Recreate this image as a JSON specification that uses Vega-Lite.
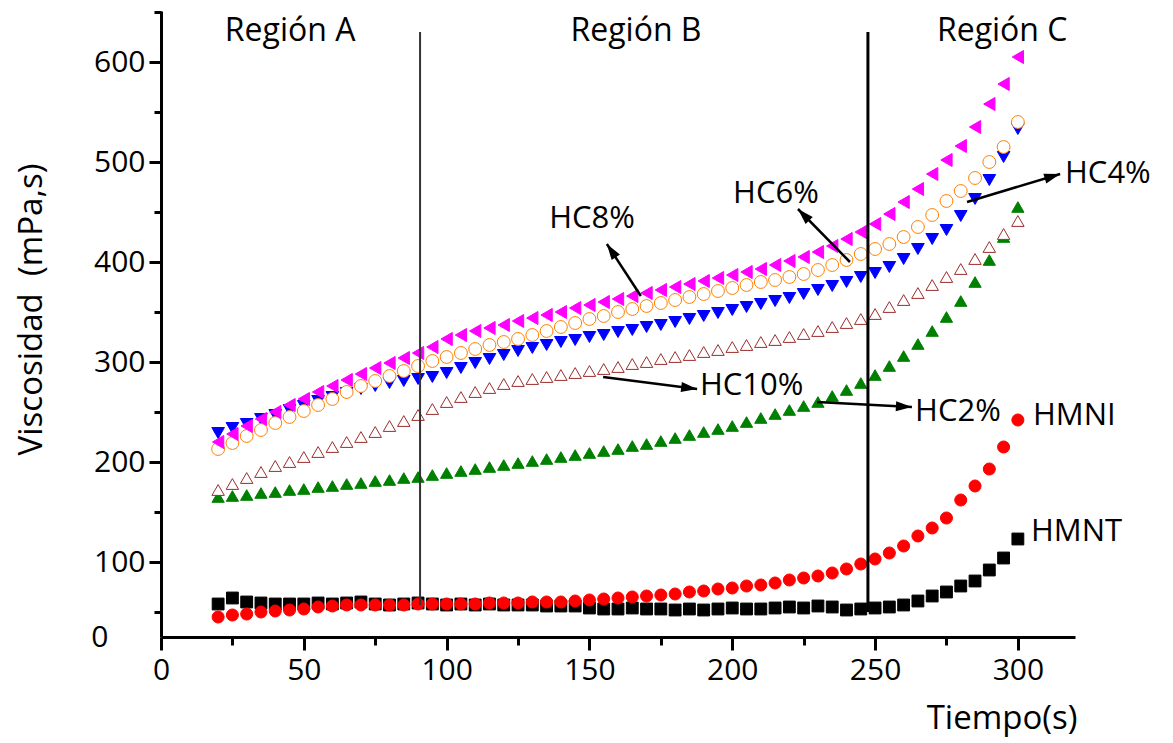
{
  "$schema": "https://vega.github.io/schema/vega-lite/v6.json",
  "width": 914,
  "height": 626,
  "autosize": "none",
  "padding": {"left": 161, "top": 11, "right": 98, "bottom": 106},
  "background": "white",
  "config": {"view": {"stroke": null}, "font": "Open Sans"},
  "datasets": {
    "d": [
      {"t":20,"HC8%":220,"HC6%":213,"HC4%":229,"HC10%":172,"HC2%":165,"HMNI":45,"HMNT":58},
      {"t":25,"HC8%":228,"HC6%":219,"HC4%":234,"HC10%":178,"HC2%":166,"HMNI":47,"HMNT":64},
      {"t":30,"HC8%":236,"HC6%":226,"HC4%":238,"HC10%":184,"HC2%":167,"HMNI":48,"HMNT":60},
      {"t":35,"HC8%":243,"HC6%":232,"HC4%":243,"HC10%":190,"HC2%":169,"HMNI":50,"HMNT":59},
      {"t":40,"HC8%":250,"HC6%":239,"HC4%":247,"HC10%":196,"HC2%":170,"HMNI":51,"HMNT":58},
      {"t":45,"HC8%":257,"HC6%":245,"HC4%":252,"HC10%":200,"HC2%":172,"HMNI":52,"HMNT":58},
      {"t":50,"HC8%":263,"HC6%":251,"HC4%":256,"HC10%":205,"HC2%":173,"HMNI":53,"HMNT":58},
      {"t":55,"HC8%":270,"HC6%":257,"HC4%":261,"HC10%":210,"HC2%":175,"HMNI":55,"HMNT":59},
      {"t":60,"HC8%":276,"HC6%":263,"HC4%":265,"HC10%":215,"HC2%":176,"HMNI":56,"HMNT":58},
      {"t":65,"HC8%":282,"HC6%":270,"HC4%":269,"HC10%":220,"HC2%":178,"HMNI":57,"HMNT":59},
      {"t":70,"HC8%":288,"HC6%":276,"HC4%":273,"HC10%":225,"HC2%":179,"HMNI":57,"HMNT":60},
      {"t":75,"HC8%":294,"HC6%":281,"HC4%":276,"HC10%":230,"HC2%":181,"HMNI":57,"HMNT":58},
      {"t":80,"HC8%":299,"HC6%":286,"HC4%":279,"HC10%":236,"HC2%":182,"HMNI":57,"HMNT":57},
      {"t":85,"HC8%":304,"HC6%":291,"HC4%":281,"HC10%":241,"HC2%":184,"HMNI":57,"HMNT":58},
      {"t":90,"HC8%":309,"HC6%":296,"HC4%":283,"HC10%":247,"HC2%":185,"HMNI":58,"HMNT":59},
      {"t":95,"HC8%":315,"HC6%":301,"HC4%":285,"HC10%":253,"HC2%":187,"HMNI":58,"HMNT":58},
      {"t":100,"HC8%":323,"HC6%":305,"HC4%":289,"HC10%":260,"HC2%":189,"HMNI":58,"HMNT":57},
      {"t":105,"HC8%":327,"HC6%":309,"HC4%":294,"HC10%":265,"HC2%":191,"HMNI":58,"HMNT":58},
      {"t":110,"HC8%":331,"HC6%":313,"HC4%":299,"HC10%":270,"HC2%":193,"HMNI":58,"HMNT":57},
      {"t":115,"HC8%":334,"HC6%":317,"HC4%":303,"HC10%":274,"HC2%":195,"HMNI":59,"HMNT":58},
      {"t":120,"HC8%":337,"HC6%":320,"HC4%":307,"HC10%":278,"HC2%":197,"HMNI":59,"HMNT":57},
      {"t":125,"HC8%":341,"HC6%":323,"HC4%":311,"HC10%":281,"HC2%":199,"HMNI":59,"HMNT":57},
      {"t":130,"HC8%":344,"HC6%":327,"HC4%":314,"HC10%":283,"HC2%":201,"HMNI":60,"HMNT":57},
      {"t":135,"HC8%":347,"HC6%":331,"HC4%":317,"HC10%":285,"HC2%":203,"HMNI":60,"HMNT":56},
      {"t":140,"HC8%":350,"HC6%":335,"HC4%":320,"HC10%":287,"HC2%":205,"HMNI":60,"HMNT":56},
      {"t":145,"HC8%":354,"HC6%":339,"HC4%":322,"HC10%":289,"HC2%":207,"HMNI":61,"HMNT":56},
      {"t":150,"HC8%":357,"HC6%":343,"HC4%":325,"HC10%":291,"HC2%":209,"HMNI":62,"HMNT":54},
      {"t":155,"HC8%":360,"HC6%":346,"HC4%":327,"HC10%":293,"HC2%":211,"HMNI":63,"HMNT":53},
      {"t":160,"HC8%":363,"HC6%":350,"HC4%":330,"HC10%":295,"HC2%":213,"HMNI":64,"HMNT":53},
      {"t":165,"HC8%":366,"HC6%":353,"HC4%":332,"HC10%":298,"HC2%":216,"HMNI":65,"HMNT":54},
      {"t":170,"HC8%":369,"HC6%":356,"HC4%":335,"HC10%":300,"HC2%":218,"HMNI":66,"HMNT":53},
      {"t":175,"HC8%":372,"HC6%":359,"HC4%":337,"HC10%":303,"HC2%":221,"HMNI":67,"HMNT":53},
      {"t":180,"HC8%":375,"HC6%":362,"HC4%":340,"HC10%":305,"HC2%":224,"HMNI":68,"HMNT":52},
      {"t":185,"HC8%":378,"HC6%":365,"HC4%":343,"HC10%":307,"HC2%":227,"HMNI":70,"HMNT":53},
      {"t":190,"HC8%":381,"HC6%":368,"HC4%":346,"HC10%":310,"HC2%":230,"HMNI":71,"HMNT":52},
      {"t":195,"HC8%":384,"HC6%":371,"HC4%":349,"HC10%":312,"HC2%":233,"HMNI":73,"HMNT":53},
      {"t":200,"HC8%":387,"HC6%":374,"HC4%":352,"HC10%":315,"HC2%":236,"HMNI":74,"HMNT":54},
      {"t":205,"HC8%":390,"HC6%":377,"HC4%":355,"HC10%":317,"HC2%":240,"HMNI":76,"HMNT":53},
      {"t":210,"HC8%":393,"HC6%":380,"HC4%":358,"HC10%":320,"HC2%":244,"HMNI":77,"HMNT":53},
      {"t":215,"HC8%":397,"HC6%":382,"HC4%":361,"HC10%":322,"HC2%":248,"HMNI":79,"HMNT":54},
      {"t":220,"HC8%":401,"HC6%":385,"HC4%":364,"HC10%":325,"HC2%":252,"HMNI":82,"HMNT":55},
      {"t":225,"HC8%":405,"HC6%":388,"HC4%":368,"HC10%":328,"HC2%":256,"HMNI":84,"HMNT":54},
      {"t":230,"HC8%":410,"HC6%":392,"HC4%":372,"HC10%":331,"HC2%":260,"HMNI":86,"HMNT":56},
      {"t":235,"HC8%":416,"HC6%":397,"HC4%":376,"HC10%":335,"HC2%":266,"HMNI":89,"HMNT":55},
      {"t":240,"HC8%":423,"HC6%":402,"HC4%":380,"HC10%":339,"HC2%":272,"HMNI":93,"HMNT":52},
      {"t":245,"HC8%":430,"HC6%":408,"HC4%":385,"HC10%":343,"HC2%":279,"HMNI":98,"HMNT":53},
      {"t":250,"HC8%":438,"HC6%":413,"HC4%":389,"HC10%":348,"HC2%":287,"HMNI":103,"HMNT":54},
      {"t":255,"HC8%":448,"HC6%":418,"HC4%":395,"HC10%":355,"HC2%":296,"HMNI":109,"HMNT":55},
      {"t":260,"HC8%":460,"HC6%":425,"HC4%":403,"HC10%":362,"HC2%":306,"HMNI":116,"HMNT":57},
      {"t":265,"HC8%":473,"HC6%":435,"HC4%":413,"HC10%":369,"HC2%":318,"HMNI":126,"HMNT":61},
      {"t":270,"HC8%":488,"HC6%":447,"HC4%":423,"HC10%":377,"HC2%":331,"HMNI":134,"HMNT":66},
      {"t":275,"HC8%":502,"HC6%":461,"HC4%":432,"HC10%":385,"HC2%":345,"HMNI":144,"HMNT":70},
      {"t":280,"HC8%":516,"HC6%":471,"HC4%":446,"HC10%":393,"HC2%":361,"HMNI":162,"HMNT":76},
      {"t":285,"HC8%":535,"HC6%":484,"HC4%":463,"HC10%":403,"HC2%":380,"HMNI":176,"HMNT":81},
      {"t":290,"HC8%":558,"HC6%":500,"HC4%":482,"HC10%":415,"HC2%":402,"HMNI":193,"HMNT":92},
      {"t":295,"HC8%":578,"HC6%":515,"HC4%":505,"HC10%":428,"HC2%":425,"HMNI":215,"HMNT":104},
      {"t":300,"HC8%":605,"HC6%":540,"HC4%":533,"HC10%":441,"HC2%":455,"HMNI":242,"HMNT":123}
    ],
    "arrows": [
      {"t":168.0,"y":366,"t2":156.1,"y2":418,"lab":"HC8%"},
      {"t":241.2,"y":400,"t2":223.0,"y2":453,"lab":"HC6%"},
      {"t":282.2,"y":460,"t2":314.8,"y2":488,"lab":"HC4%"},
      {"t":154.8,"y":285,"t2":187.7,"y2":273,"lab":"HC10%"},
      {"t":229.7,"y":260,"t2":262.9,"y2":255,"lab":"HC2%"}
    ]
  },
  "encoding": {
    "x": {
      "field": "t",
      "type": "quantitative",
      "title": "Tiempo(s)",
      "scale": {"domain": [0, 320], "nice": false, "zero": false},
      "axis": {
        "values": [0, 25, 50, 75, 100, 125, 150, 175, 200, 225, 250, 275, 300],
        "labelExpr": "datum.value % 50 === 0 ? datum.label : ''",
        "tickSize": {"condition": {"test": "datum.value % 50 === 0", "value": 13}, "value": 8},
        "labelPadding": 5,
        "labelFont": "Open Sans",
        "labelFontSize": 30,
        "labelColor": "black",
        "labelFlush": false,
        "labelOverlap": false,
        "domainColor": "black",
        "domainWidth": 3,
        "tickColor": "black",
        "tickWidth": 3,
        "grid": false,
        "titleFont": "Open Sans",
        "titleFontSize": 33,
        "titleFontWeight": "normal",
        "titleColor": "black",
        "titleX": 916,
        "titleY": 81,
        "titleAlign": "right",
        "titleBaseline": "middle"
      }
    },
    "y": {
      "field": "y",
      "type": "quantitative",
      "title": "Viscosidad\u00a0 (mPa,s)",
      "scale": {"domain": [25, 651], "nice": false, "zero": false},
      "axis": {
        "values": [25, 50, 100, 150, 200, 250, 300, 350, 400, 450, 500, 550, 600, 650],
        "labelExpr": "datum.value === 25 ? '0' : (datum.value % 100 === 0 ? datum.label : '')",
        "tickSize": {"condition": [{"test": "datum.value === 25", "value": 0}, {"test": "datum.value % 100 === 0", "value": 12}], "value": 7},
        "labelPadding": {"condition": {"test": "datum.value === 25", "value": 53}, "value": 4},
        "labelFont": "Open Sans",
        "labelFontSize": 30,
        "labelColor": "black",
        "labelFlush": false,
        "labelOverlap": false,
        "domainColor": "black",
        "domainWidth": 3,
        "tickColor": "black",
        "tickWidth": 3,
        "grid": false,
        "titleFont": "Open Sans",
        "titleFontSize": 33,
        "titleFontWeight": "normal",
        "titleColor": "black",
        "titleAngle": 270,
        "titleX": -130,
        "titleY": 298,
        "titleAlign": "center",
        "titleBaseline": "middle"
      }
    }
  },
  "layer": [
    {
      "data": {"name": "d"},
      "transform": [{"fold": ["HMNT", "HMNI", "HC2%", "HC10%", "HC4%", "HC6%", "HC8%"], "as": ["s", "y"]}],
      "mark": {"type": "point", "opacity": 1},
      "encoding": {
        "shape": {"field": "s", "type": "nominal", "legend": null,
          "scale": {"domain": ["HMNT", "HMNI", "HC2%", "HC10%", "HC4%", "HC6%", "HC8%"],
                    "range": ["square", "circle", "triangle-up", "triangle-up", "triangle-down", "circle", "triangle-left"]}},
        "stroke": {"field": "s", "type": "nominal", "legend": null,
          "scale": {"domain": ["HMNT", "HMNI", "HC2%", "HC10%", "HC4%", "HC6%", "HC8%"],
                    "range": ["#000000", "#FF0000", "#008000", "#9B2D2D", "#0000FF", "#FF8000", "#FF00FF"]}},
        "fill": {"field": "s", "type": "nominal", "legend": null,
          "scale": {"domain": ["HMNT", "HMNI", "HC2%", "HC10%", "HC4%", "HC6%", "HC8%"],
                    "range": ["#000000", "#FF0000", "#008000", "#FFFFFF", "#0000FF", "#FFFFFF", "#FF00FF"]}},
        "strokeWidth": {"field": "s", "type": "nominal", "legend": null,
          "scale": {"domain": ["HMNT", "HMNI", "HC2%", "HC10%", "HC4%", "HC6%", "HC8%"],
                    "range": [1, 1, 1, 3, 1, 3, 1]}},
        "size": {"field": "s", "type": "nominal", "legend": null,
          "scale": {"domain": ["HMNT", "HMNI", "HC2%", "HC10%", "HC4%", "HC6%", "HC8%"],
                    "range": [140, 170, 200, 160, 200, 110, 200]}}
      }
    },
    {
      "data": {"values": [{"t": 90.7, "y": 57, "y2": 630}]},
      "mark": {"type": "rule", "color": "#333333", "strokeWidth": 2},
      "encoding": {"y2": {"field": "y2"}}
    },
    {
      "data": {"values": [{"t": 247.5, "y": 50, "y2": 630}]},
      "mark": {"type": "rule", "color": "#000000", "strokeWidth": 3},
      "encoding": {"y2": {"field": "y2"}}
    },
    {
      "data": {"name": "arrows"},
      "mark": {"type": "rule", "color": "#000000", "strokeWidth": 2.5},
      "encoding": {"x2": {"field": "t2"}, "y2": {"field": "y2"}}
    },
    {
      "data": {"name": "arrows"},
      "encoding": {
        "x": {"field": "t2", "type": "quantitative", "title": "Tiempo(s)"},
        "y": {"field": "y2", "type": "quantitative", "title": "Viscosidad\u00a0 (mPa,s)"}
      },
      "layer": [
        {"transform": [{"filter": {"field": "lab", "equal": "HC8%"}}],
         "mark": {"type": "point", "shape": "M0,0L0.5,1.6L-0.5,1.6Z", "filled": true, "size": 400, "color": "#000000", "opacity": 1, "angle": 326}},
        {"transform": [{"filter": {"field": "lab", "equal": "HC6%"}}],
         "mark": {"type": "point", "shape": "M0,0L0.5,1.6L-0.5,1.6Z", "filled": true, "size": 400, "color": "#000000", "opacity": 1, "angle": 315.5}},
        {"transform": [{"filter": {"field": "lab", "equal": "HC4%"}}],
         "mark": {"type": "point", "shape": "M0,0L0.5,1.6L-0.5,1.6Z", "filled": true, "size": 400, "color": "#000000", "opacity": 1, "angle": 73.2}},
        {"transform": [{"filter": {"field": "lab", "equal": "HC10%"}}],
         "mark": {"type": "point", "shape": "M0,0L0.5,1.6L-0.5,1.6Z", "filled": true, "size": 400, "color": "#000000", "opacity": 1, "angle": 97.3}},
        {"transform": [{"filter": {"field": "lab", "equal": "HC2%"}}],
         "mark": {"type": "point", "shape": "M0,0L0.5,1.6L-0.5,1.6Z", "filled": true, "size": 400, "color": "#000000", "opacity": 1, "angle": 93}}
      ]
    },
    {
      "data": {"values": [
        {"t": 45.2, "y": 631, "label": "Región A"},
        {"t": 166.3, "y": 631, "label": "Región B"},
        {"t": 294.5, "y": 631, "label": "Región C"}
      ]},
      "mark": {"type": "text", "font": "Open Sans", "fontSize": 32, "align": "center", "baseline": "middle", "color": "black"},
      "encoding": {"text": {"field": "label"}}
    },
    {
      "data": {"values": [
        {"t": 135.9, "y": 443, "label": "HC8%"},
        {"t": 200.3, "y": 468, "label": "HC6%"},
        {"t": 316.5, "y": 488, "label": "HC4%"},
        {"t": 188.7, "y": 276, "label": "HC10%"},
        {"t": 264.0, "y": 250, "label": "HC2%"},
        {"t": 305.3, "y": 246, "label": "HMNI"},
        {"t": 304.6, "y": 130, "label": "HMNT"}
      ]},
      "mark": {"type": "text", "font": "Open Sans", "fontSize": 31, "align": "left", "baseline": "middle", "color": "black"},
      "encoding": {"text": {"field": "label"}}
    }
  ]
}
